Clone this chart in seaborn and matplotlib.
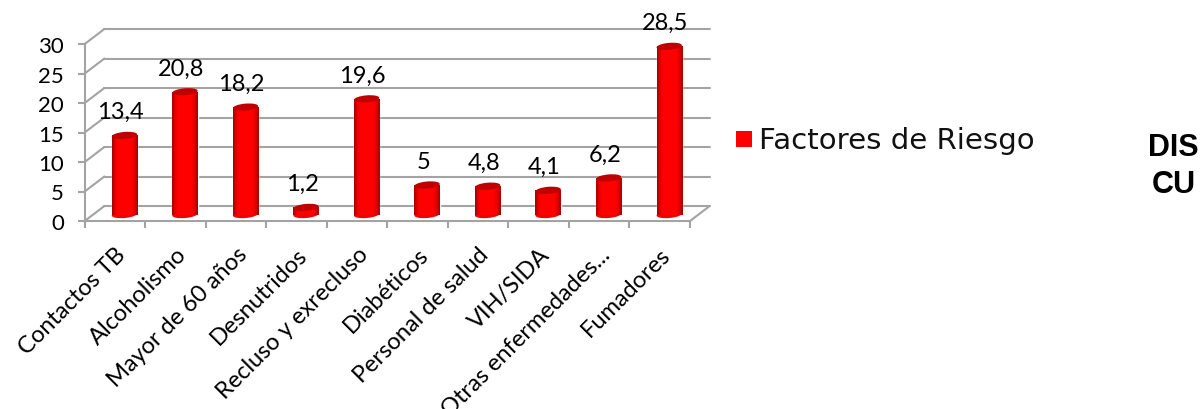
import numpy as np
import pandas as pd
import matplotlib
matplotlib.use("Agg")
import matplotlib.pyplot as plt
import seaborn as sns
from matplotlib.patches import Ellipse, Rectangle
from matplotlib.transforms import offset_copy, IdentityTransform

categories = ["Contactos TB", "Alcoholismo", "Mayor de 60 años", "Desnutridos",
              "Recluso y exrecluso", "Diabéticos", "Personal de salud", "VIH/SIDA",
              "Otras enfermedades...", "Fumadores"]
values = [13.4, 20.8, 18.2, 1.2, 19.6, 5, 4.8, 4.1, 6.2, 28.5]
value_labels = ["13,4", "20,8", "18,2", "1,2", "19,6", "5", "4,8", "4,1", "6,2", "28,5"]
series_name = "Factores de Riesgo"

W, H = 1202, 410
sns.set_theme(style="white")
plt.rcParams["font.family"] = ["Lato", "DejaVu Sans"]
fig = plt.figure(figsize=(W / 100, H / 100), dpi=100, facecolor="white")
L, R, T, B = 84.7, 690, 45, 222
ax = fig.add_axes([L / W, 1 - B / H, (R - L) / W, (B - T) / H])
df = pd.DataFrame({"cat": categories, "val": values})
sns.barplot(data=df, x="cat", y="val", color="#ff0000", width=0.42, saturation=1, ax=ax, zorder=5)
ax.set_xlim(-0.5, 9.5)
ax.set_ylim(0, 30)
ax.set_xlabel("")
ax.set_ylabel("")
sns.despine(ax=ax, top=True, right=True)

GRID = "#a3a3a3"
back = offset_copy(ax.transData, fig=fig, x=19.7, y=15, units="dots")
mid = offset_copy(ax.transData, fig=fig, x=9.5, y=6.5, units="dots")
lab_tr = offset_copy(ax.transData, fig=fig, x=5.5, y=6.5, units="dots")
yt = np.arange(0, 31, 5)
for y in yt:
    ax.plot([-0.5, 9.5], [y, y], transform=back, color=GRID, lw=1.5, clip_on=False, zorder=1)
    x0 = ax.transData.transform((-0.5, y))
    x1 = back.transform((-0.5, y))
    ax.plot([x0[0], x1[0]], [x0[1], x1[1]], transform=IdentityTransform(), color=GRID, lw=1.5, clip_on=False, zorder=1)
x0 = ax.transData.transform((9.5, 0))
x1 = back.transform((9.5, 0))
ax.plot([x0[0], x1[0]], [x0[1], x1[1]], transform=IdentityTransform(), color=GRID, lw=1.5, clip_on=False, zorder=1)

ax.spines["left"].set_color(GRID)
ax.spines["bottom"].set_color(GRID)
ax.spines["left"].set_linewidth(1.5)
ax.spines["bottom"].set_linewidth(1.5)
ax.set_yticks(yt)
ax.set_xticks(np.arange(10))
ax.set_xticks(np.arange(-0.5, 10, 1), minor=True)
ax.tick_params(axis="x", which="major", length=0, pad=16)
ax.tick_params(axis="x", which="minor", length=5, width=1.5, color=GRID, bottom=True)
ax.tick_params(axis="y", length=5, width=1.5, color=GRID, left=True, labelsize=16, pad=10, labelcolor="black")
ax.set_xticklabels(categories, rotation=45, ha="right", rotation_mode="anchor", fontsize=17, color="black")

# cylinder look: gradient body, dark cap, rounded base
grad = np.array([0.68, 0.85, 0.96, 1, 1, 1, 1, 1, 1, 1, 1, 0.98, 0.92, 0.82, 0.68])
rgb = np.zeros((1, len(grad), 3))
rgb[0, :, 0] = grad
for bar, v, lab in zip(ax.patches, values, value_labels):
    bar.set_transform(mid)
    x, w = bar.get_x(), bar.get_width()
    ax.imshow(rgb, extent=[x, x + w, 0, v], aspect="auto", transform=mid, zorder=6, interpolation="bilinear")
    wpx = mid.transform((x + w, 0))[0] - mid.transform((x, 0))[0]
    ax.add_patch(Ellipse(mid.transform((x + w / 2, 0)), wpx, 7, angle=5, transform=IdentityTransform(),
                         color="#f00000", lw=0, zorder=5.5, clip_on=False))
    ax.add_patch(Ellipse(mid.transform((x + w / 2, v)), wpx, 7, angle=5, transform=IdentityTransform(),
                         color="#c00000", lw=0, zorder=7, clip_on=False))
    ax.text(x + w / 2, v + 4.0, lab, transform=lab_tr, ha="center", va="center", fontsize=17, color="black", zorder=8, clip_on=False)
ax.set_xlim(-0.5, 9.5)
ax.set_ylim(0, 30)
ax.patch.set_alpha(0)

# legend
fig.add_artist(Rectangle((736 / W, 1 - 148 / H), 16 / W, 16 / H, transform=fig.transFigure, color="#ff0000", lw=0))
fig.text(759 / W, 1 - 141 / H, series_name, family="DejaVu Sans", fontsize=21.1, va="center", ha="left", color="#111111")
fig.text(1173.5 / W, 1 - 148 / H, "DIS", family="Liberation Sans", weight="bold", fontsize=22, va="center", ha="center", color="black")
fig.text(1173.5 / W, 1 - 185 / H, "CU", family="Liberation Sans", weight="bold", fontsize=22, va="center", ha="center", color="black")

fig.savefig("out.png", dpi=100, facecolor="white")
